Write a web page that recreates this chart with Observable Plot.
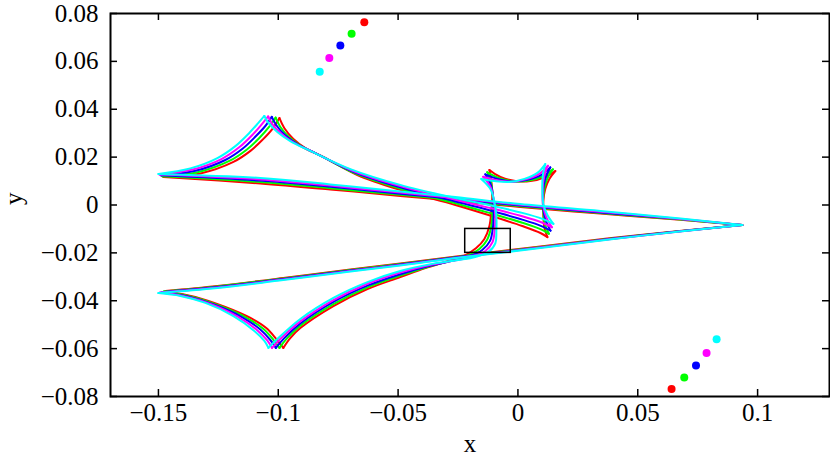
<!DOCTYPE html>
<html><head><meta charset="utf-8">
<script src="https://cdn.jsdelivr.net/npm/d3@7"></script>
<script src="https://cdn.jsdelivr.net/npm/@observablehq/plot@0.6"></script>
<style>body{margin:0;background:#fff}</style>
</head><body><div id="chart"></div><script>
const colors = ["#ff0000", "#00ff00", "#0000ff", "#ff00ff", "#00ffff"];
const xTicks = [-0.15, -0.1, -0.05, 0, 0.05, 0.1];
const xTickLabels = ["\u22120.15", "\u22120.1", "\u22120.05", "0", "0.05", "0.1"];
const yTicks = [-0.08, -0.06, -0.04, -0.02, 0, 0.02, 0.04, 0.06, 0.08];
const yTickLabels = ["\u22120.08", "\u22120.06", "\u22120.04", "\u22120.02", "0", "0.02", "0.04", "0.06", "0.08"];

// source positions (one per colour)
const topDotX = [-0.0641, -0.0694, -0.0741, -0.0787, -0.0827];
const topDotY = [0.0763, 0.0715, 0.0666, 0.0614, 0.0557];
const botDotX = [0.0641, 0.0694, 0.0743, 0.0787, 0.0829];
const botDotY = [-0.0769, -0.0721, -0.0671, -0.0618, -0.0561];

// zoom box
const boxX = [-0.022, -0.003];
const boxY = [-0.020, -0.010];

// caustic segments between cusps: each holds [red, green, blue, magenta, cyan]
const segA = [
 [[0.0936,-0.0084],[0.0678,-0.0062],[0.0344,-0.0036],[0.0010,-0.0008],[-0.0261,0.0017],[-0.0491,0.0038],[-0.0783,0.0065],[-0.1075,0.0090],[-0.1479,0.0117]],
 [[0.0936,-0.0084],[0.0678,-0.0061],[0.0344,-0.0033],[0.0010,-0.0005],[-0.0261,0.0021],[-0.0491,0.0043],[-0.0783,0.0070],[-0.1075,0.0096],[-0.1484,0.0120]],
 [[0.0936,-0.0084],[0.0678,-0.0059],[0.0344,-0.0031],[0.0010,-0.0002],[-0.0261,0.0025],[-0.0491,0.0047],[-0.0783,0.0076],[-0.1075,0.0102],[-0.1490,0.0124]],
 [[0.0936,-0.0084],[0.0678,-0.0058],[0.0344,-0.0028],[0.0010,0.0001],[-0.0261,0.0029],[-0.0491,0.0052],[-0.0783,0.0081],[-0.1075,0.0107],[-0.1495,0.0127]],
 [[0.0936,-0.0084],[0.0678,-0.0056],[0.0344,-0.0025],[0.0010,0.0004],[-0.0261,0.0033],[-0.0491,0.0056],[-0.0783,0.0086],[-0.1075,0.0113],[-0.1500,0.0130]]
];
const segB = [
 [[-0.1479,0.0117],[-0.1325,0.0132],[-0.1187,0.0180],[-0.1116,0.0226],[-0.1066,0.0272],[-0.1025,0.0317],[-0.0995,0.0363]],
 [[-0.1484,0.0120],[-0.1336,0.0137],[-0.1204,0.0184],[-0.1132,0.0231],[-0.1080,0.0279],[-0.1040,0.0324],[-0.1011,0.0365]],
 [[-0.1490,0.0124],[-0.1346,0.0143],[-0.1221,0.0188],[-0.1148,0.0236],[-0.1094,0.0287],[-0.1054,0.0330],[-0.1027,0.0368]],
 [[-0.1495,0.0127],[-0.1357,0.0148],[-0.1237,0.0192],[-0.1163,0.0241],[-0.1107,0.0294],[-0.1069,0.0337],[-0.1042,0.0370]],
 [[-0.1500,0.0130],[-0.1367,0.0153],[-0.1254,0.0196],[-0.1179,0.0246],[-0.1121,0.0301],[-0.1083,0.0343],[-0.1058,0.0372]]
];
const segC = [
 [[-0.0995,0.0363],[-0.0975,0.0322],[-0.0937,0.0276],[-0.0887,0.0238],[-0.0812,0.0201],[-0.0670,0.0125],[-0.0491,0.0063],[-0.0261,0.0000],[-0.0123,-0.0042],[0.0018,-0.0088],[0.0094,-0.0117],[0.0123,-0.0134]],
 [[-0.1011,0.0365],[-0.0992,0.0327],[-0.0954,0.0283],[-0.0903,0.0245],[-0.0826,0.0207],[-0.0677,0.0131],[-0.0491,0.0068],[-0.0261,0.0007],[-0.0123,-0.0032],[0.0018,-0.0074],[0.0096,-0.0102],[0.0129,-0.0120]],
 [[-0.1027,0.0368],[-0.1008,0.0333],[-0.0971,0.0291],[-0.0919,0.0253],[-0.0839,0.0214],[-0.0685,0.0138],[-0.0491,0.0074],[-0.0261,0.0015],[-0.0123,-0.0021],[0.0018,-0.0061],[0.0098,-0.0088],[0.0136,-0.0107]],
 [[-0.1042,0.0370],[-0.1025,0.0338],[-0.0987,0.0298],[-0.0934,0.0260],[-0.0853,0.0220],[-0.0692,0.0144],[-0.0491,0.0079],[-0.0261,0.0022],[-0.0123,-0.0011],[0.0018,-0.0047],[0.0100,-0.0073],[0.0142,-0.0093]],
 [[-0.1058,0.0372],[-0.1041,0.0343],[-0.1004,0.0305],[-0.0950,0.0267],[-0.0866,0.0226],[-0.0699,0.0150],[-0.0491,0.0084],[-0.0261,0.0029],[-0.0123,0.0000],[0.0018,-0.0033],[0.0102,-0.0058],[0.0148,-0.0079]]
];
const segD = [
 [[0.0123,-0.0134],[0.0110,-0.0092],[0.0106,-0.0042],[0.0106,0.0017],[0.0114,0.0067],[0.0131,0.0109],[0.0156,0.0142]],
 [[0.0129,-0.0120],[0.0113,-0.0080],[0.0106,-0.0031],[0.0105,0.0026],[0.0111,0.0075],[0.0125,0.0116],[0.0146,0.0149]],
 [[0.0136,-0.0107],[0.0117,-0.0067],[0.0106,-0.0019],[0.0104,0.0036],[0.0108,0.0084],[0.0119,0.0124],[0.0135,0.0157]],
 [[0.0142,-0.0093],[0.0120,-0.0055],[0.0106,-0.0008],[0.0103,0.0045],[0.0105,0.0092],[0.0112,0.0131],[0.0125,0.0164]],
 [[0.0148,-0.0079],[0.0123,-0.0042],[0.0106,0.0004],[0.0102,0.0054],[0.0102,0.0100],[0.0106,0.0138],[0.0114,0.0171]]
];
const segE = [
 [[0.0156,0.0142],[0.0114,0.0117],[0.0052,0.0100],[-0.0011,0.0100],[-0.0073,0.0117],[-0.0119,0.0146]],
 [[0.0146,0.0149],[0.0106,0.0121],[0.0046,0.0102],[-0.0017,0.0099],[-0.0080,0.0113],[-0.0128,0.0137]],
 [[0.0135,0.0157],[0.0098,0.0126],[0.0040,0.0105],[-0.0024,0.0098],[-0.0086,0.0109],[-0.0136,0.0128]],
 [[0.0125,0.0164],[0.0089,0.0130],[0.0033,0.0107],[-0.0030,0.0097],[-0.0093,0.0104],[-0.0145,0.0118]],
 [[0.0114,0.0171],[0.0081,0.0134],[0.0027,0.0109],[-0.0036,0.0096],[-0.0099,0.0100],[-0.0153,0.0109]]
];
const segF = [
 [[-0.0119,0.0146],[-0.0111,0.0100],[-0.0107,0.0038],[-0.0111,-0.0025],[-0.0119,-0.0088],[-0.0140,-0.0142],[-0.0174,-0.0180],[-0.0219,-0.0209],[-0.0290,-0.0234],[-0.0386,-0.0263],[-0.0491,-0.0301],[-0.0628,-0.0351],[-0.0770,-0.0422],[-0.0908,-0.0514],[-0.0950,-0.0556],[-0.0979,-0.0597]],
 [[-0.0128,0.0137],[-0.0112,0.0092],[-0.0105,0.0033],[-0.0106,-0.0030],[-0.0112,-0.0093],[-0.0129,-0.0146],[-0.0161,-0.0184],[-0.0209,-0.0211],[-0.0280,-0.0233],[-0.0379,-0.0259],[-0.0491,-0.0295],[-0.0628,-0.0344],[-0.0770,-0.0414],[-0.0908,-0.0504],[-0.0964,-0.0557],[-0.0995,-0.0597]],
 [[-0.0136,0.0128],[-0.0113,0.0084],[-0.0103,0.0028],[-0.0101,-0.0036],[-0.0105,-0.0099],[-0.0117,-0.0151],[-0.0149,-0.0188],[-0.0199,-0.0213],[-0.0270,-0.0232],[-0.0372,-0.0255],[-0.0491,-0.0289],[-0.0628,-0.0337],[-0.0770,-0.0405],[-0.0908,-0.0495],[-0.0977,-0.0558],[-0.1010,-0.0597]],
 [[-0.0145,0.0118],[-0.0114,0.0075],[-0.0101,0.0022],[-0.0095,-0.0041],[-0.0097,-0.0104],[-0.0106,-0.0155],[-0.0136,-0.0192],[-0.0188,-0.0215],[-0.0259,-0.0231],[-0.0364,-0.0250],[-0.0491,-0.0282],[-0.0628,-0.0329],[-0.0770,-0.0397],[-0.0908,-0.0486],[-0.0991,-0.0559],[-0.1026,-0.0597]],
 [[-0.0153,0.0109],[-0.0115,0.0067],[-0.0099,0.0017],[-0.0090,-0.0046],[-0.0090,-0.0109],[-0.0094,-0.0159],[-0.0123,-0.0196],[-0.0178,-0.0217],[-0.0249,-0.0230],[-0.0357,-0.0246],[-0.0491,-0.0276],[-0.0628,-0.0322],[-0.0770,-0.0388],[-0.0908,-0.0476],[-0.1004,-0.0560],[-0.1041,-0.0597]]
];
const segG = [
 [[-0.0979,-0.0597],[-0.1008,-0.0560],[-0.1050,-0.0514],[-0.1116,-0.0472],[-0.1221,-0.0426],[-0.1346,-0.0384],[-0.1471,-0.0359]],
 [[-0.0995,-0.0597],[-0.1021,-0.0562],[-0.1063,-0.0517],[-0.1134,-0.0470],[-0.1242,-0.0422],[-0.1362,-0.0383],[-0.1478,-0.0361]],
 [[-0.1010,-0.0597],[-0.1033,-0.0564],[-0.1075,-0.0520],[-0.1152,-0.0468],[-0.1263,-0.0418],[-0.1377,-0.0382],[-0.1486,-0.0364]],
 [[-0.1026,-0.0597],[-0.1046,-0.0566],[-0.1088,-0.0523],[-0.1169,-0.0466],[-0.1283,-0.0413],[-0.1393,-0.0381],[-0.1493,-0.0366]],
 [[-0.1041,-0.0597],[-0.1058,-0.0568],[-0.1100,-0.0526],[-0.1187,-0.0464],[-0.1304,-0.0409],[-0.1408,-0.0380],[-0.1500,-0.0368]]
];
const segH = [
 [[-0.1471,-0.0359],[-0.1254,-0.0338],[-0.0979,-0.0305],[-0.0699,-0.0269],[-0.0491,-0.0244],[-0.0240,-0.0213],[0.0094,-0.0173],[0.0511,-0.0125],[0.0936,-0.0084]],
 [[-0.1478,-0.0361],[-0.1254,-0.0340],[-0.0979,-0.0307],[-0.0699,-0.0271],[-0.0491,-0.0246],[-0.0240,-0.0215],[0.0094,-0.0175],[0.0511,-0.0126],[0.0936,-0.0084]],
 [[-0.1486,-0.0364],[-0.1254,-0.0343],[-0.0979,-0.0309],[-0.0699,-0.0274],[-0.0491,-0.0249],[-0.0240,-0.0216],[0.0094,-0.0177],[0.0511,-0.0127],[0.0936,-0.0084]],
 [[-0.1493,-0.0366],[-0.1254,-0.0345],[-0.0979,-0.0311],[-0.0699,-0.0276],[-0.0491,-0.0251],[-0.0240,-0.0218],[0.0094,-0.0178],[0.0511,-0.0128],[0.0936,-0.0084]],
 [[-0.1500,-0.0368],[-0.1254,-0.0347],[-0.0979,-0.0313],[-0.0699,-0.0278],[-0.0491,-0.0253],[-0.0240,-0.0219],[0.0094,-0.0180],[0.0511,-0.0129],[0.0936,-0.0084]]
];

const segments = [segA, segB, segC, segD, segE, segF, segG, segH];
const rows = [];
colors.forEach((col, c) => {
  segments.forEach((seg, s) => {
    seg[c].forEach(([x, y]) => rows.push({x, y, color: col, key: c * 100 + s}));
  });
});
const dots = colors.map((col, i) => ({x: topDotX[i], y: topDotY[i], color: col}))
  .concat(colors.map((col, i) => ({x: botDotX[i], y: botDotY[i], color: col})));

const chart = Plot.plot({
  width: 830,
  height: 456,
  marginLeft: 110,
  marginRight: 1,
  marginTop: 13,
  marginBottom: 60,
  style: {fontFamily: "'Liberation Serif', serif", fontSize: "25px", color: "black", background: "white"},
  x: {domain: [-0.17, 0.13]},
  y: {domain: [-0.08, 0.08]},
  color: {type: "identity"},
  marks: [
    Plot.line(rows, {x: "x", y: "y", z: "key", stroke: "color", strokeWidth: 2, curve: "catmull-rom"}),
    Plot.rect([0], {x1: () => boxX[0], x2: () => boxX[1], y1: () => boxY[0], y2: () => boxY[1], fill: "none", stroke: "black", strokeWidth: 1.5}),
    Plot.dot(dots, {x: "x", y: "y", fill: "color", r: 4, stroke: "none"}),
    Plot.tickX(xTicks, {x: d => d, insetTop: 376, stroke: "black", strokeWidth: 1.5}),
    Plot.tickX(xTicks, {x: d => d, insetBottom: 376, stroke: "black", strokeWidth: 1.5}),
    Plot.tickY(yTicks, {y: d => d, insetRight: 712, stroke: "black", strokeWidth: 1.5}),
    Plot.tickY(yTicks, {y: d => d, insetLeft: 712, stroke: "black", strokeWidth: 1.5}),
    Plot.axisX({ticks: xTicks, tickSize: 0, tickPadding: 7, tickFormat: d => xTickLabels[xTicks.indexOf(d)], label: null}),
    Plot.axisY({ticks: yTicks, tickSize: 0, tickPadding: 12, tickFormat: d => yTickLabels[yTicks.indexOf(d)], label: null}),
    Plot.frame({stroke: "black", strokeWidth: 2}),
    Plot.text(["x"], {frameAnchor: "bottom", dy: 55, text: d => d}),
    Plot.text(["y"], {frameAnchor: "left", dx: -97, rotate: -90, text: d => d})
  ]
});
document.getElementById("chart").append(chart);
</script></body></html>
